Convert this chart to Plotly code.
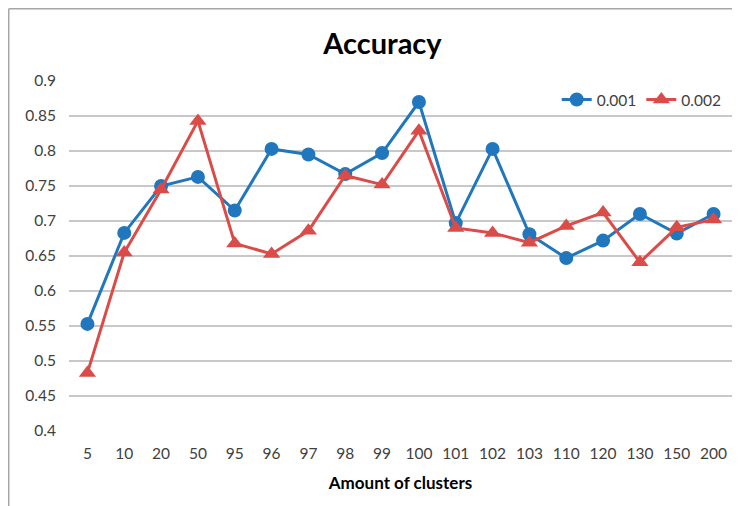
import plotly.graph_objects as go

clusters = ["5", "10", "20", "50", "95", "96", "97", "98", "99", "100", "101", "102", "103", "110", "120", "130", "150", "200"]
acc_0001 = [0.553, 0.683, 0.750, 0.763, 0.715, 0.803, 0.795, 0.767, 0.797, 0.870, 0.697, 0.803, 0.681, 0.647, 0.672, 0.710, 0.682, 0.710]
acc_0002 = [0.483, 0.655, 0.745, 0.843, 0.668, 0.653, 0.686, 0.765, 0.752, 0.829, 0.690, 0.683, 0.669, 0.693, 0.712, 0.641, 0.691, 0.702]

BLUE = "#2077bd"
RED = "#db4b48"
FONT = "Lato"

fig = go.Figure()
fig.add_trace(go.Scatter(x=clusters, y=acc_0001, name="0.001", mode="lines+markers",
                         line=dict(color=BLUE, width=3),
                         marker=dict(symbol="circle", size=14, color=BLUE)))
fig.add_trace(go.Scatter(x=clusters, y=acc_0002, name="0.002", mode="lines+markers",
                         line=dict(color=RED, width=3),
                         marker=dict(symbol="triangle-up", size=15, color=RED)))

fig.update_layout(
    width=740, height=506,
    margin=dict(l=61, r=16, t=73, b=83, autoexpand=False),
    paper_bgcolor="white", plot_bgcolor="white",
    font=dict(family=FONT, size=15, color="#404040"),
    title=dict(text="<b>Accuracy</b>", x=0.506, xanchor="center", y=0.929, yanchor="middle",
               font=dict(family=FONT, size=29, color="black")),
    legend=dict(orientation="h", x=0.992, xanchor="right", y=0.946, yanchor="middle",
                font=dict(family=FONT, size=15.5, color="#404040"), bgcolor="rgba(0,0,0,0)",
                itemwidth=30, tracegroupgap=0),
    showlegend=True,
)
fig.update_xaxes(type="category", range=[-0.5, 17.5], automargin=False, showgrid=False,
                 showline=False, ticks="", ticklabelstandoff=11,
                 tickfont=dict(family=FONT, size=15.5, color="#404040"),
                 title=dict(text="<b>Amount of clusters</b>", standoff=16,
                            font=dict(family=FONT, size=17, color="black")))
fig.update_yaxes(range=[0.4, 0.9], dtick=0.05, tick0=0.4, automargin=False, showgrid=True,
                 gridcolor="#c8c8c8", gridwidth=1.5, zeroline=False, showline=False,
                 ticks="", ticklabelstandoff=12,
                 tickfont=dict(family=FONT, size=15.5, color="#404040"))

# chart frame (left and top edges visible)
fig.add_shape(type="line", xref="paper", yref="paper", x0=-0.0909, x1=-0.0909, y0=1.2064, y1=-0.25,
              line=dict(color="#a6a6a6", width=1.5))
fig.add_shape(type="line", xref="paper", yref="paper", x0=-0.0909, x1=1.03, y0=1.2064, y1=1.2064,
              line=dict(color="#a6a6a6", width=1.5))

fig.write_html("out.html")
